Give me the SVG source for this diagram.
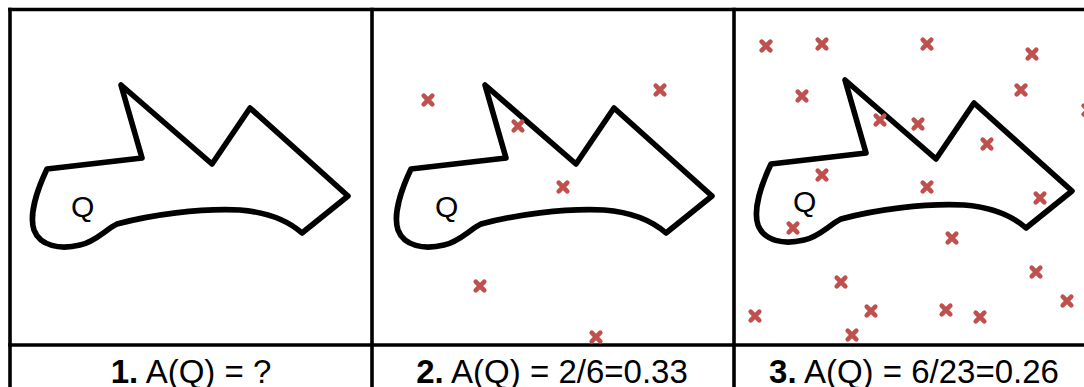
<svg xmlns="http://www.w3.org/2000/svg" xmlns:xlink="http://www.w3.org/1999/xlink" width="1084" height="387" viewBox="0 0 1084 387">
<style>
.grid{stroke:#000;stroke-width:3.6;fill:none;stroke-linecap:square}
.shape{fill:none;stroke:#000;stroke-width:5.6;stroke-linejoin:round;stroke-linecap:round}
.q{font-family:"Liberation Sans",Arial,sans-serif;font-size:30px;fill:#000}
.lbl{font-family:"Liberation Sans",Arial,sans-serif;font-size:33px;fill:#000;text-anchor:middle}
.b{font-weight:bold}
.mk{stroke:#C0504D;stroke-width:4.6;stroke-linecap:round}
</style>
<defs>
<path id="Q" class="shape" d="M 47 169 C 37 190, 29 215, 34 230 C 40 246, 60 250, 80 245 C 95 242, 105 230, 117 224 C 150 215, 200 208, 240 210 C 265 212, 285 218, 302 233 L 348 196 L 250 108 L 212 164 L 121 85 L 142 158 Z"/>
<path id="x" class="mk" d="M -4.3 -4.3 L 4.3 4.3 M -4.3 4.3 L 4.3 -4.3"/>
</defs>
<rect width="1084" height="387" fill="#fff"/>
<g id="table">
<line class="grid" x1="10" y1="9.5" x2="1090" y2="9.5"/>
<line class="grid" x1="10" y1="9.5" x2="10" y2="390"/>
<line class="grid" x1="372" y1="9.5" x2="372" y2="390"/>
<line class="grid" x1="734" y1="9.5" x2="734" y2="390"/>
<line class="grid" x1="10" y1="345" x2="1090" y2="345"/>
</g>
<g id="panel1">
<use xlink:href="#Q"/>
<text class="q" x="71" y="217">Q</text>
<text class="lbl" x="191" y="383"><tspan class="b">1.</tspan> A(Q) = ?</text>
</g>
<g id="panel2">
<use xlink:href="#Q" transform="translate(364,0)"/>
<text class="q" x="435" y="217">Q</text>
<g id="samples2">
<use xlink:href="#x" x="428" y="100"/>
<use xlink:href="#x" x="518" y="126"/>
<use xlink:href="#x" x="660" y="90"/>
<use xlink:href="#x" x="563" y="187"/>
<use xlink:href="#x" x="480" y="286"/>
<use xlink:href="#x" x="596" y="337"/>
</g>
<text class="lbl" x="552" y="383"><tspan class="b">2.</tspan> A(Q) = 2/6=0.33</text>
</g>
<g id="panel3">
<use xlink:href="#Q" transform="translate(724,-5)"/>
<text class="q" x="793" y="212">Q</text>
<g id="samples3">
<use xlink:href="#x" x="766" y="46"/>
<use xlink:href="#x" x="822" y="44"/>
<use xlink:href="#x" x="927" y="44"/>
<use xlink:href="#x" x="1032" y="54"/>
<use xlink:href="#x" x="802" y="96"/>
<use xlink:href="#x" x="1021" y="90"/>
<use xlink:href="#x" x="1088" y="110"/>
<use xlink:href="#x" x="880" y="120"/>
<use xlink:href="#x" x="918" y="124"/>
<use xlink:href="#x" x="987" y="144"/>
<use xlink:href="#x" x="822" y="175"/>
<use xlink:href="#x" x="927" y="187"/>
<use xlink:href="#x" x="1040" y="198"/>
<use xlink:href="#x" x="793" y="228"/>
<use xlink:href="#x" x="952" y="238"/>
<use xlink:href="#x" x="841" y="282"/>
<use xlink:href="#x" x="1036" y="272"/>
<use xlink:href="#x" x="1067" y="301"/>
<use xlink:href="#x" x="755" y="316"/>
<use xlink:href="#x" x="871" y="311"/>
<use xlink:href="#x" x="946" y="310"/>
<use xlink:href="#x" x="980" y="317"/>
<use xlink:href="#x" x="852" y="335"/>
</g>
<text class="lbl" x="914" y="383"><tspan class="b">3.</tspan> A(Q) = 6/23=0.26</text>
</g>
</svg>
